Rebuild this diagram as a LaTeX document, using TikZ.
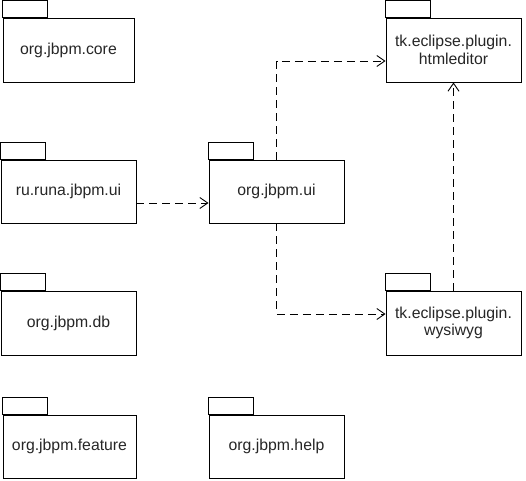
\documentclass[tikz,border=0pt]{standalone}
\usepackage{fontspec}
\setmainfont{Liberation Sans}
\usetikzlibrary{arrows.meta}
\tikzset{
  pkg/.style={draw, line width=0.9pt, minimum width=135pt, minimum height=64pt,
    align=center, inner sep=0pt, text=black!85, font=\fontsize{15.8}{17.5}\selectfont},
  dep/.style={-{Straight Barb[length=8pt,width=11pt]}, line width=0.9pt, dash pattern=on 8pt off 5pt}
}
\begin{document}
\begin{tikzpicture}[x=1pt,y=-1pt]
			\useasboundingbox (0,0) rectangle (526,480);
			\node[pkg, minimum width=131pt] (core) at (68.5,50) {org.jbpm.core};
			\node[pkg] (html) at (453.5,50) {tk.eclipse.plugin.\\htmleditor};
			\node[pkg, minimum height=63pt] (runa) at (68.5,191.5) {ru.runa.jbpm.ui};
			\node[pkg, minimum height=63pt] (ui) at (276.5,191.5) {org.jbpm.ui};
			\node[pkg] (db) at (68.5,323) {org.jbpm.db};
			\node[pkg] (wys) at (453.5,323) {tk.eclipse.plugin.\\wysiwyg};
			\node[pkg, minimum width=133pt, minimum height=63pt] (feature) at (69.5,446.5) {org.jbpm.feature};
			\node[pkg, minimum height=63pt] (help) at (276.5,446.5) {org.jbpm.help};
			% tabs
			\foreach \n in {core,html,runa,ui,db,wys,feature,help}
			\draw[line width=0.9pt] (\n.north west) rectangle ++(45,-17);
			% dependencies
			\draw[dep] ([yshift=-11.5pt]runa.east) -- ([yshift=-11.5pt]ui.west);
			\draw[dep] (ui.north) |- ([yshift=-11pt]html.west);
			\draw[dep] (ui.south) |- ([yshift=9pt]wys.west);
			\draw[dep] (wys.north) -- (html.south);
		\end{tikzpicture}
\end{document}
